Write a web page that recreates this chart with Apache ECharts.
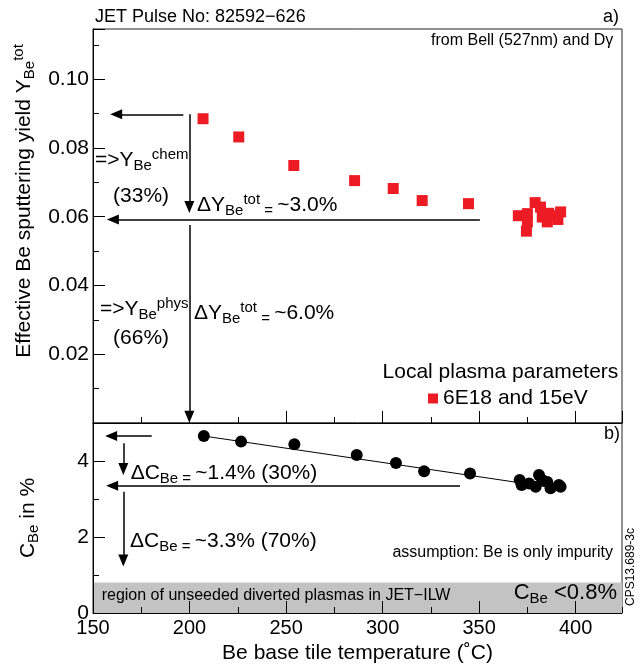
<!DOCTYPE html>
<html>
<head>
<meta charset="utf-8">
<script src="https://cdn.jsdelivr.net/npm/echarts@6/dist/echarts.min.js"></script>
<style>
html, body { margin: 0; padding: 0; background: #fff; }
#main { width: 644px; height: 671px; }
</style>
</head>
<body>
<div id="main"></div>
<script>
// top panel: effective Be sputtering yield vs base tile temperature
var yieldTemp = [207, 225.5, 254, 285.5, 305.5, 320.5, 344.5,
    370.3, 375, 375, 374.5, 379, 381.8, 382.7, 385.3, 386, 390.8, 392.2, 388];
var yieldVal = [0.0885, 0.0832, 0.0749, 0.0705, 0.0682, 0.0647, 0.0638,
    0.0603, 0.0609, 0.0585, 0.0558, 0.0641, 0.0628, 0.0599, 0.0585, 0.0610, 0.0592, 0.0614, 0.0603];

// bottom panel: Be concentration
var concTemp = [207.4, 226.7, 254.3, 286.6, 306.9, 321.5, 345.3,
    371, 372, 375.9, 379.3, 381, 382.7, 385.3, 387, 391.3, 392.2];
var concVal = [4.66, 4.51, 4.44, 4.16, 3.95, 3.73, 3.67,
    3.50, 3.37, 3.41, 3.32, 3.63, 3.50, 3.45, 3.28, 3.37, 3.32];

// linear fit through the concentration points
var fitTemp = [207, 392];
var fitVal = [4.66, 3.27];

var xTicks = [150, 200, 250, 300, 350, 400];
var yTopTicks = [0.02, 0.04, 0.06, 0.08, 0.10];
var yBotTicks = [0, 2, 4];

var FONT = 'Liberation Sans';
var dom = document.getElementById('main');
var myChart = echarts.init(dom);

var rich = {
    sub: {fontSize: 15, lineHeight: 12, verticalAlign: 'bottom', fontFamily: FONT, color: '#000'},
    sup: {fontSize: 15, lineHeight: 12, verticalAlign: 'top', fontFamily: FONT, color: '#000'}
};
var richBig = {
    sub: {fontSize: 15, lineHeight: 12, verticalAlign: 'bottom', fontFamily: FONT, color: '#000'}
};

function zip(a, b) {
    var out = [];
    for (var i = 0; i < a.length; i++) out.push([a[i], b[i]]);
    return out;
}
function isTick(v, list) {
    for (var i = 0; i < list.length; i++) {
        if (Math.abs(v - list[i]) < 1e-9) return true;
    }
    return false;
}
function note(x, y, text, pos, size, r) {
    return {
        value: [x, y],
        label: {
            show: true, position: pos || 'right', distance: 0,
            formatter: text, fontSize: size || 21, lineHeight: 26,
            fontFamily: FONT, color: '#000', rich: r || rich
        }
    };
}
function arrow(x1, y1, x2, y2) {
    return [{coord: [x1, y1]}, {coord: [x2, y2]}];
}

var axisLine = {show: true, lineStyle: {color: '#000', width: 1}};
var majorTick = {show: true, inside: true, length: 12, lineStyle: {color: '#000'}};
var minorTick = {show: true, inside: true, length: 6, lineStyle: {color: '#000'}};

var option = {
    animation: false,
    textStyle: {fontFamily: FONT},
    title: {
        text: 'JET Pulse No: 82592\u2212626',
        left: 95, top: 8, padding: 0,
        textStyle: {fontSize: 18, fontWeight: 'normal', color: '#000', fontFamily: FONT}
    },
    legend: {
        data: ['6E18 and 15eV'],
        left: 423, top: 383,
        icon: 'rect', itemWidth: 10, itemHeight: 10,
        textStyle: {fontSize: 21, color: '#000', fontFamily: FONT},
        selectedMode: false
    },
    graphic: [
        {type: 'text', left: 603, top: 8, style: {text: 'a)', fontSize: 18, fill: '#000', fontFamily: FONT}},
        {type: 'text', left: 604, top: 425, style: {text: 'b)', fontSize: 18, fill: '#000', fontFamily: FONT}},
        {type: 'text', x: 631, y: 567, rotation: Math.PI / 2,
            style: {text: 'CPS13.689-3c', fontSize: 12, fill: '#000', fontFamily: FONT,
                align: 'center', verticalAlign: 'middle'}}
    ],
    grid: [
        {left: 93, right: 22, top: 29, height: 394, show: true, borderColor: '#222', borderWidth: 1},
        {left: 93, right: 22, top: 423, height: 190, show: true, borderColor: '#222', borderWidth: 1}
    ],
    xAxis: [
        {gridIndex: 0, type: 'value', min: 150, max: 424, interval: 50, position: 'bottom',
            axisLine: axisLine, axisTick: majorTick, axisLabel: {show: false}, splitLine: {show: false}},
        {gridIndex: 0, type: 'value', min: 150, max: 424, interval: 25, position: 'bottom',
            axisLine: {show: false}, axisTick: minorTick, axisLabel: {show: false}, splitLine: {show: false}},
        {gridIndex: 1, type: 'value', min: 150, max: 424, interval: 50, position: 'bottom', z: 5,
            axisLine: axisLine, axisTick: majorTick, splitLine: {show: false},
            axisLabel: {
                margin: 5, fontSize: 20, color: '#000', fontFamily: FONT,
                showMaxLabel: false,
                formatter: function (v) { return isTick(v, xTicks) ? String(v) : ''; }
            },
            name: 'Be base tile temperature (\u02DAC)', nameLocation: 'middle', nameGap: 30,
            nameTextStyle: {fontSize: 21, color: '#000', fontFamily: FONT}},
        {gridIndex: 1, type: 'value', min: 150, max: 424, interval: 25, position: 'bottom', z: 5,
            axisLine: {show: false}, axisTick: minorTick, axisLabel: {show: false}, splitLine: {show: false}}
    ],
    yAxis: [
        {gridIndex: 0, type: 'value', min: 0, max: 0.1146, interval: 0.02, position: 'left',
            axisLine: axisLine, axisTick: majorTick, splitLine: {show: false},
            axisLabel: {
                margin: 4, fontSize: 21, color: '#000', fontFamily: FONT,
                formatter: function (v) { return isTick(v, yTopTicks) ? v.toFixed(2) : ''; }
            },
            name: 'Effective Be sputtering yield Y{sub|Be}{sup|tot}', nameLocation: 'middle',
            nameGap: 52, nameRotate: 90,
            nameTextStyle: {fontSize: 21, color: '#000', fontFamily: FONT, lineHeight: 26,
                padding: [0, 0, 0, 50], rich: rich}},
        {gridIndex: 0, type: 'value', min: 0, max: 0.1146, interval: 0.01, position: 'left',
            axisLine: {show: false}, axisTick: minorTick, axisLabel: {show: false}, splitLine: {show: false}},
        {gridIndex: 1, type: 'value', min: 0, max: 5, interval: 2, position: 'left', z: 5,
            axisLine: axisLine, axisTick: majorTick, splitLine: {show: false},
            axisLabel: {
                margin: 4, fontSize: 21, color: '#000', fontFamily: FONT,
                formatter: function (v) { return isTick(v, yBotTicks) ? String(v) : ''; }
            },
            name: 'C{sub|Be} in %', nameLocation: 'middle', nameGap: 52, nameRotate: 90,
            nameTextStyle: {fontSize: 21, color: '#000', fontFamily: FONT, lineHeight: 26, rich: rich}},
        {gridIndex: 1, type: 'value', min: 0, max: 5, interval: 1, position: 'left', z: 5,
            axisLine: {show: false}, axisTick: minorTick, axisLabel: {show: false}, splitLine: {show: false}}
    ],
    series: [
        {
            name: '6E18 and 15eV',
            type: 'scatter', xAxisIndex: 0, yAxisIndex: 0,
            symbol: 'rect', symbolSize: 11,
            itemStyle: {color: '#ed1c24', opacity: 1},
            data: zip(yieldTemp, yieldVal),
            markLine: {
                silent: true, symbol: ['none', 'triangle'], symbolSize: [10, 12],
                label: {show: false},
                lineStyle: {color: '#000', width: 1.5, type: 'solid'},
                data: [
                    arrow(196.8, 0.0898, 162.0, 0.0898),
                    arrow(199.9, 0.0898, 199.9, 0.0628),
                    arrow(350.4, 0.0592, 160.3, 0.0592),
                    arrow(199.9, 0.0576, 199.9, 0.0018)
                ]
            }
        },
        {
            type: 'scatter', xAxisIndex: 0, yAxisIndex: 0, symbolSize: 0, silent: true,
            itemStyle: {opacity: 1},
            data: [
                note(151.0, 0.0765, '=>Y{sub|Be}{sup|chem}'),
                note(160.4, 0.0661, '(33%)'),
                note(203.9, 0.0634, '\u0394Y{sub|Be}{sup|tot}{sub| = }~3.0%'),
                note(153.6, 0.0331, '=>Y{sub|Be}{sup|phys}'),
                note(160.4, 0.0246, '(66%)'),
                note(202.3, 0.0319, '\u0394Y{sub|Be}{sup|tot}{sub| = }~6.0%'),
                note(419.5, 0.1112, 'from Bell (527nm) and D\u03B3', 'left', 16),
                note(422.1, 0.0149, 'Local plasma parameters', 'left', 21)
            ]
        },
        {
            type: 'line', xAxisIndex: 2, yAxisIndex: 2,
            symbol: 'none', lineStyle: {color: '#000', width: 1},
            data: zip(fitTemp, fitVal),
            markArea: {
                silent: true,
                itemStyle: {color: '#c3c3c3', opacity: 1},
                data: [[{yAxis: 0}, {yAxis: 0.8}]]
            }
        },
        {
            type: 'scatter', xAxisIndex: 2, yAxisIndex: 2,
            symbol: 'circle', symbolSize: 12,
            itemStyle: {color: '#000', opacity: 1},
            data: zip(concTemp, concVal),
            markLine: {
                silent: true, symbol: ['none', 'triangle'], symbolSize: [10, 12],
                label: {show: false},
                lineStyle: {color: '#000', width: 1.5, type: 'solid'},
                data: [
                    arrow(180.4, 4.66, 159.4, 4.66),
                    arrow(165.7, 4.47, 165.7, 3.79),
                    arrow(340.1, 3.35, 159.9, 3.35),
                    arrow(165.7, 3.19, 165.7, 1.38)
                ]
            }
        },
        {
            type: 'scatter', xAxisIndex: 2, yAxisIndex: 2, symbolSize: 0, silent: true, z: 6,
            itemStyle: {opacity: 1},
            data: [
                note(169.5, 3.68, '\u0394C{sub|Be}{sub| = }~1.4% (30%)'),
                note(169.2, 1.88, '\u0394C{sub|Be}{sub| = }~3.3% (70%)'),
                note(419.3, 1.58, 'assumption: Be is only impurity', 'left', 16),
                note(154.5, 0.47, 'region of unseeded diverted plasmas in JET\u2212ILW', 'right', 16),
                note(421.4, 0.53, 'C{sub|Be} <0.8%', 'left', 22, richBig)
            ]
        }
    ]
};

if (option && typeof option === "object") {
    myChart.setOption(option, true);
}
</script>
</body>
</html>
